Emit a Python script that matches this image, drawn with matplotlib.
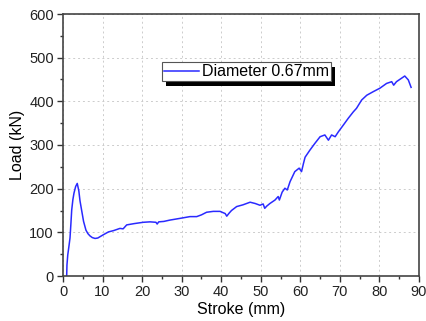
import matplotlib
matplotlib.use("Agg")
import matplotlib.pyplot as plt
from matplotlib.patches import Rectangle
from matplotlib.transforms import IdentityTransform
from matplotlib.ticker import MultipleLocator

plt.rcParams['font.family'] = ['Liberation Sans', 'DejaVu Sans']

# stroke (mm) vs load (kN)
stroke = [0.93, 1.0, 1.2, 1.5, 1.77, 2.0, 2.2, 2.5, 2.78, 3.2, 3.6, 4.0, 4.3, 4.7,
          5.2, 5.8, 6.3, 6.8, 7.4, 8.1, 8.8, 9.35, 10.3, 11.5, 12.8, 14.4, 15.2,
          16.1, 18.0, 20.3, 22.0, 23.5, 23.8, 24.2, 25.5, 27.0, 29.6, 32.1, 33.8,
          35.0, 36.3, 38.0, 39.7, 41.0, 41.4, 42.0, 42.6, 43.9, 45.5, 47.3, 48.6,
          49.8, 50.6, 51.0, 51.5, 52.3, 53.6, 54.4, 54.7, 55.4, 56.1, 56.7, 57.4,
          58.6, 59.7, 60.3, 60.8, 61.2, 62.4, 63.7, 65.0, 66.2, 67.1, 67.9, 68.8,
          69.6, 70.9, 72.1, 73.4, 74.2, 75.5, 76.8, 78.4, 80.1, 81.8, 83.1, 83.6,
          84.3, 85.6, 86.4, 87.3, 88.0]
load = [0, 25, 48, 68, 87, 120, 151, 175, 190, 205, 212, 195, 172, 151,
        125, 105, 97, 92, 88, 86, 87, 90, 95, 101, 104, 109, 108,
        117, 120, 123, 124, 123, 119, 124, 125, 128, 132, 136, 136,
        140, 146, 148, 148, 143, 137, 144, 150, 159, 163, 169, 166,
        162, 165, 155, 160, 166, 174, 182, 174, 192, 201, 197, 216,
        239, 247, 239, 258, 272, 288, 304, 319, 323, 311, 323, 319,
        330, 346, 361, 376, 384, 403, 414, 422, 430, 441, 445, 437,
        445, 453, 458, 449, 432]

fig = plt.figure(figsize=(4.26, 3.21), dpi=100)
ax = fig.add_axes([63/426, 1 - 276/321, 356/426, 262/321])

ax.plot(stroke, load, color='#2a2aff', linewidth=1.1, label='Diameter 0.67mm')

ax.set_xlim(0, 90)
ax.set_ylim(0, 600)
ax.xaxis.set_major_locator(MultipleLocator(10))
ax.xaxis.set_minor_locator(MultipleLocator(5))
ax.yaxis.set_major_locator(MultipleLocator(100))
ax.yaxis.set_minor_locator(MultipleLocator(50))
ax.tick_params(which='both', direction='out', labelsize=10.5, colors='#333333',
               labelcolor='#222222')
ax.tick_params(which='major', length=4, width=1, pad=2.5)
ax.tick_params(which='minor', length=2.5, width=1)
ax.grid(True, which='major', linestyle=(0, (2, 3)), color='#cccccc', linewidth=0.7)
for s in ax.spines.values():
    s.set_color('#444444')
    s.set_linewidth(1.2)

ax.set_xlabel('Stroke (mm)', fontsize=11.5, labelpad=2)
ax.set_ylabel('Load (kN)', fontsize=11.5, labelpad=3)

leg = ax.legend(loc='upper left', bbox_to_anchor=(0.278, 0.815), fontsize=11.5,
                frameon=True, fancybox=False, framealpha=1,
                borderpad=0.12, handlelength=2.2, handletextpad=0.2,
                borderaxespad=0)
leg.get_frame().set_edgecolor('#555555')
leg.get_frame().set_linewidth(0.8)

# black drop shadow, offset right and down
fig.canvas.draw()
bb = leg.get_window_extent()
shadow = Rectangle((bb.x0 + 4, bb.y0 - 5), bb.width, bb.height,
                   transform=IdentityTransform(), facecolor='black',
                   edgecolor='none', zorder=4.9)
ax.add_patch(shadow)

plt.savefig('out.png', dpi=100)
